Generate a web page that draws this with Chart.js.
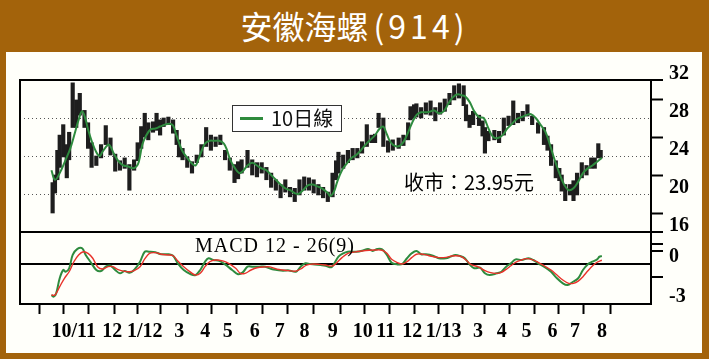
<!DOCTYPE html>
<html><head><meta charset="utf-8">
<script src="https://cdn.jsdelivr.net/npm/chart.js@4.4.1/dist/chart.umd.min.js"></script>
<style>
html,body{margin:0;padding:0;}
body{width:709px;height:359px;background:#a3630b;position:relative;overflow:hidden;font-family:"Noto Sans CJK TC","Noto Sans",sans-serif;}
#title{position:absolute;left:0;top:4px;width:709px;text-align:center;color:#fff;font-size:32px;line-height:42px;}
#title .num{letter-spacing:4px;margin-left:5px;}
#panel{position:absolute;left:6px;top:52px;width:696px;height:301px;background:#fffffa;}
#c{position:absolute;left:0;top:0;width:709px;height:359px;}
#legend{position:absolute;left:232px;top:105px;width:110px;height:27px;box-sizing:border-box;border:1.5px solid #333;background:#fff;}
#legend .sw{position:absolute;left:7px;top:11px;width:23px;height:3px;background:#2e8b3e;}
#legend .lt{position:absolute;left:38px;top:-1px;line-height:26px;font-size:20px;color:#111;white-space:nowrap;}
#close{position:absolute;left:404px;top:169px;font-size:20px;line-height:26px;color:#000;white-space:nowrap;}
#macdlbl{position:absolute;left:195px;top:233px;font-family:"Liberation Serif",serif;font-size:20px;line-height:24px;letter-spacing:1px;color:#000;white-space:nowrap;}
</style></head>
<body>
<div id="title">安徽海螺<span class="num">(914)</span></div>
<div id="panel"></div>
<canvas id="c" width="709" height="359"></canvas>
<div id="legend"><span class="sw"></span><span class="lt">10日線</span></div>
<div id="close">收市：23.95元</div>
<div id="macdlbl">MACD 12 - 26(9)</div>
<script>
// ---- data (trading-day index from 1 Oct 2011) ----
const monthStart = [0,20,43,64,81,104,126,145,168,189,210,234,255,275,297,317,339,357,377,398,420,439,462];
const monthLabel = ['10/11','','12','1/12','','3','4','5','6','7','8','9','10','11','12','1/13','','3','4','5','6','7','8'];

const barDay = [1,3,5,7,10,13,15,18,21,24,28,31,34,38,42,46,50,54,58,62,66,70,73,76,79,82,86,89,92,95,99,103,106,108,111,115,119,123,127,131,135,139,143,147,151,155,158,161,166,170,174,178,182,186,190,194,198,202,206,210,214,218,222,226,230,234,238,241,243,247,251,255,259,263,267,271,274,277,281,285,289,294,298,302,304,307,309,313,317,321,325,329,333,337,341,345,349,351,354,357,362,365,367,370,375,379,383,387,391,395,399,403,407,412,417,420,423,427,430,432,435,439,442,445,449,453,457,460,463,465];
const barHigh = [21.2,22.0,24.6,26.2,27.3,25.2,26.5,31.7,29.9,30.6,28.8,27.5,25.4,24.0,25.2,27.2,25.9,24.2,23.5,23.8,23.1,23.6,25.4,27.1,28.5,27.5,27.6,28.5,27.8,28.0,28.1,27.8,26.7,25.7,24.8,23.9,23.4,24.1,25.2,27.0,26.2,26.0,26.2,24.6,23.8,23.1,23.4,23.6,24.6,23.6,23.3,23.3,22.8,22.2,21.5,21.0,21.5,20.7,20.6,21.5,21.8,21.7,21.5,21.0,20.7,20.2,22.2,23.5,24.4,24.1,24.6,24.8,24.8,25.5,27.3,26.2,26.3,28.5,28.0,25.6,25.7,25.9,26.2,27.5,29.2,29.4,29.5,29.1,29.6,29.8,29.1,29.6,30.0,30.6,31.4,31.6,31.4,29.4,28.3,28.7,28.3,27.7,27.0,26.6,26.7,26.6,28.0,28.2,29.8,28.5,28.7,29.4,28.2,27.5,27.0,26.1,25.2,23.5,22.7,22.0,21.0,21.0,21.4,22.2,23.3,23.0,23.8,23.8,25.3,24.6];
const barLow = [18.0,20.1,21.5,22.8,23.9,21.7,23.6,27.0,27.0,28.3,27.0,24.8,22.8,23.0,23.8,25.2,24.1,22.4,22.5,22.7,20.4,22.5,23.5,24.8,26.0,25.7,26.5,26.7,26.2,27.1,27.3,26.4,25.2,23.9,23.6,22.8,22.2,23.3,23.9,25.0,24.6,25.0,25.2,23.6,22.5,21.2,21.6,22.2,22.8,22.0,21.8,22.2,21.5,20.7,20.4,19.6,20.2,19.7,19.2,19.9,20.4,20.4,20.1,19.9,19.6,19.2,19.7,21.5,22.2,22.7,23.3,23.6,23.8,24.3,25.0,25.4,25.4,27.0,25.0,24.4,24.6,24.8,25.1,25.7,27.8,28.0,28.1,28.0,28.4,28.3,27.7,28.4,28.7,29.4,29.9,30.1,29.3,27.7,27.0,27.3,27.2,26.1,24.3,25.6,25.7,25.4,26.2,27.2,27.3,27.5,27.7,28.2,27.3,26.4,25.2,24.6,23.0,21.7,21.4,20.3,19.3,19.9,19.3,19.9,21.7,22.0,22.7,22.7,23.8,23.8];

const maDay = [0,3,7,12,16,20,23,26,29,31,34,38,41,43,48,50,53,57,61,65,69,72,74,77,80,84,88,92,96,100,103,105,108,111,115,119,122,124,127,130,134,138,142,146,149,151,155,159,162,166,170,174,178,182,186,190,194,198,202,206,209,213,217,221,225,229,234,236,239,242,246,250,254,258,262,266,270,274,278,281,283,286,289,293,297,301,305,309,313,317,321,324,328,332,336,340,344,347,350,354,358,362,366,370,374,378,382,386,390,394,398,402,406,410,414,418,422,426,430,434,438,442,446,450,454,458,462,466];
const maValue = [22.5,21.5,22.2,23.6,24.8,26.5,27.8,28.7,27.8,26.8,25.6,24.4,24.0,24.4,25.2,25.0,24.2,23.4,23.0,22.9,22.7,22.9,23.4,25.2,26.1,26.8,26.9,27.1,27.3,27.4,27.2,26.5,25.4,24.5,23.8,23.2,23.0,23.5,24.5,25.3,25.6,25.6,25.6,25.3,24.5,23.7,22.8,22.2,22.4,23.0,23.3,23.0,22.7,22.5,22.0,21.5,21.0,20.6,20.4,20.1,20.0,20.4,20.9,21.0,20.8,20.6,20.1,19.8,20.2,21.3,22.5,23.2,23.8,24.1,24.6,25.2,25.7,26.2,26.9,27.1,26.6,25.7,25.2,25.0,25.3,26.2,27.4,28.3,28.6,28.6,28.7,28.8,28.5,28.7,29.5,30.2,30.5,30.4,30.3,29.7,28.7,28.1,28.0,26.9,26.0,25.9,26.2,26.9,27.4,27.9,28.1,28.3,28.4,28.0,27.3,26.6,25.2,23.6,22.2,21.0,20.4,20.6,21.3,22.2,22.7,23.0,23.4,23.8];

const macdDay = [0,2,4,7,10,12,15,18,22,26,29,33,38,42,46,50,54,58,62,66,70,75,79,83,88,93,99,103,107,112,118,122,126,130,133,137,142,147,153,158,162,166,170,176,181,187,191,196,201,207,211,215,219,223,228,232,237,239,243,247,251,255,258,263,268,272,276,280,284,288,293,297,301,305,309,313,317,323,328,334,338,342,346,350,354,358,363,367,371,377,381,385,389,393,398,404,408,412,417,423,428,433,437,441,446,450,454,458,462,464,466];
const macdValue = [-2.33,-2.45,-2.2,-1.07,-0.45,-0.58,-0.32,0.68,1.13,1.18,0.68,0.17,-0.45,-0.53,-0.2,-0.13,-0.45,-0.7,-0.53,-0.65,-0.45,0.17,0.92,0.92,0.88,0.73,0.73,0.62,0.05,-0.45,-0.77,-0.83,-0.45,0.17,0.43,0.3,0.23,-0.03,-0.45,-0.77,-0.63,-0.2,-0.2,-0.2,-0.2,-0.4,-0.45,-0.5,-0.48,-0.58,-0.2,0.05,0.0,-0.03,-0.08,-0.13,-0.25,-0.03,0.55,0.8,0.92,0.92,0.92,1.0,1.13,0.98,1.13,1.1,0.68,0.1,-0.03,0.0,0.43,0.8,0.98,0.73,0.73,0.62,0.43,0.43,0.55,0.68,0.6,0.43,-0.03,-0.32,-0.28,-0.7,-0.83,-0.7,-0.58,-0.2,0.05,0.35,0.3,0.43,0.3,0.05,-0.2,-0.58,-1.07,-1.45,-1.58,-1.37,-1.07,-0.45,-0.03,0.17,0.35,0.55,0.6];

const signalDay = [0,3,7,11,15,19,23,27,31,35,39,43,48,52,56,61,66,70,75,79,83,88,93,99,103,107,112,118,122,126,130,134,139,145,150,156,160,164,169,174,180,185,191,196,201,207,212,216,222,227,232,238,242,246,251,255,258,263,269,274,280,284,288,293,297,301,305,309,313,317,323,328,334,339,343,347,351,355,361,366,371,377,381,385,389,393,398,402,407,412,417,423,428,433,438,442,446,450,454,458,462,466];
const signalValue = [-2.33,-2.33,-1.7,-1.07,-0.58,0.17,0.68,0.92,0.8,0.43,-0.2,-0.38,-0.2,-0.2,-0.4,-0.53,-0.58,-0.5,-0.2,0.38,0.8,0.85,0.73,0.68,0.62,0.23,-0.2,-0.63,-0.83,-0.7,-0.2,0.17,0.3,0.23,0.05,-0.32,-0.7,-0.7,-0.45,-0.28,-0.22,-0.22,-0.38,-0.45,-0.5,-0.53,-0.32,-0.08,0.0,-0.03,-0.08,-0.15,0.13,0.48,0.8,0.88,0.92,0.98,1.03,1.05,1.03,0.8,0.35,0.1,0.0,0.17,0.48,0.73,0.75,0.68,0.55,0.48,0.5,0.6,0.62,0.55,0.3,-0.03,-0.2,-0.45,-0.63,-0.7,-0.63,-0.4,-0.13,0.13,0.3,0.4,0.33,0.13,-0.13,-0.45,-0.83,-1.2,-1.45,-1.45,-1.28,-0.95,-0.53,-0.15,0.13,0.28];

const priceTicks = [16,18,20,22,24,26,28,30,32];
const priceTickLabels = ['16','','20','','24','','28','','32'];
const priceGridValues = [20,24,28];
const priceMarkValues = [18,22,26,30];
const macdTicks = [-3,-1,0,1,1.5];
const macdTickLabels = ['-3','','0','',''];
const macdMarkValues = [-1,1,1.5];

// ---- chart ----
const GREEN = '#2e8b3e', RED = '#e8322a';
const serifBold = {family:'"Liberation Serif", "Times New Roman", serif', size:20, weight:'bold'};

const framePlugin = {
  id:'frame',
  afterDatasetsDraw(chart){
    const {ctx, chartArea:a, scales} = chart;
    const sep = scales.y.bottom;
    ctx.save();
    ctx.strokeStyle = '#000';
    ctx.lineWidth = 2;
    ctx.beginPath();
    ctx.moveTo(a.left, a.top); ctx.lineTo(a.right + 12, a.top);
    ctx.moveTo(a.left, sep); ctx.lineTo(a.right + 12, sep);
    ctx.moveTo(a.left, a.bottom); ctx.lineTo(a.right, a.bottom);
    ctx.moveTo(a.left, a.top - 1); ctx.lineTo(a.left, a.bottom + 1);
    ctx.moveTo(a.right, a.top - 1); ctx.lineTo(a.right, a.bottom + 1);
    ctx.stroke();
    ctx.restore();
  }
};

new Chart(document.getElementById('c'), {
  type:'bar',
  data:{
    datasets:[
      {type:'line', label:'10日線', data: maDay.map((d,i)=>({x:d, y:maValue[i]})), borderColor:GREEN, borderWidth:2, pointRadius:0, tension:0.4, fill:false, xAxisID:'x', yAxisID:'y', order:1},
      {type:'bar', label:'股價', data: barDay.map((d,i)=>({x:d, y:[barLow[i], barHigh[i]]})), backgroundColor:'#1e1e1e', borderWidth:0, barThickness:3.5, grouped:false, xAxisID:'x', yAxisID:'y', order:3},
      {type:'line', label:'訊號', data: signalDay.map((d,i)=>({x:d, y:signalValue[i]})), borderColor:RED, borderWidth:1.4, pointRadius:0, tension:0.35, fill:false, xAxisID:'x', yAxisID:'yM', order:1},
      {type:'line', label:'MACD', data: macdDay.map((d,i)=>({x:d, y:macdValue[i]})), borderColor:GREEN, borderWidth:2, pointRadius:0, tension:0.35, fill:false, xAxisID:'x', yAxisID:'yM', order:2}
    ]
  },
  options:{
    responsive:false, animation:false, devicePixelRatio:1,
    layout:{padding:{left:20, top:80, right:0, bottom:0}},
    plugins:{legend:{display:false}, tooltip:{enabled:false}, title:{display:false}},
    scales:{
      x:{
        type:'linear', position:'bottom', min:-15, max:496,
        afterBuildTicks:s=>{ s.ticks = monthStart.map(v=>({value:v})); },
        afterFit:s=>{ s.height = 55; },
        border:{display:false},
        grid:{drawOnChartArea:false, drawTicks:true, tickLength:10, tickWidth:2, tickColor:'#000'},
        ticks:{autoSkip:false, maxRotation:0, minRotation:0, align:'start', padding:6, color:'#000',
               font:{family:'"Liberation Serif", "Times New Roman", serif', size:20, weight:'bold'},
               callback:(v,i)=>monthLabel[i]}
      },
      y:{
        type:'linear', position:'right', stack:'panes', stackWeight:152, min:16, max:32,
        afterBuildTicks:s=>{ s.ticks = priceTicks.map(v=>({value:v})); },
        afterFit:s=>{ s.width = 58; },
        border:{display:false, dash:[1,3]},
        grid:{drawOnChartArea:true, drawTicks:true, tickLength:12, tickWidth:2, lineWidth:1,
              color:c=>(c.tick && priceGridValues.includes(c.tick.value)) ? '#555' : 'rgba(0,0,0,0)',
              tickColor:c=>(c.tick && priceMarkValues.includes(c.tick.value)) ? '#000' : 'rgba(0,0,0,0)'},
        ticks:{autoSkip:false, padding:6, labelOffset:-6, color:'#000', font:serifBold,
               callback:(v,i)=>priceTickLabels[i]}
      },
      yM:{
        type:'linear', position:'right', stack:'panes', stackWeight:72, min:-3, max:2.4,
        afterBuildTicks:s=>{ s.ticks = macdTicks.map(v=>({value:v})); },
        afterFit:s=>{ s.width = 58; },
        border:{display:false},
        grid:{drawOnChartArea:true, drawTicks:true, tickLength:12, tickWidth:2, lineWidth:2,
              color:c=>(c.tick && c.tick.value === 0) ? '#000' : 'rgba(0,0,0,0)',
              tickColor:c=>(c.tick && macdMarkValues.includes(c.tick.value)) ? '#000' : 'rgba(0,0,0,0)'},
        ticks:{autoSkip:false, padding:6, labelOffset:-7, color:'#000', font:serifBold,
               callback:(v,i)=>macdTickLabels[i]}
      }
    }
  },
  plugins:[framePlugin]
});
</script>
</body></html>
